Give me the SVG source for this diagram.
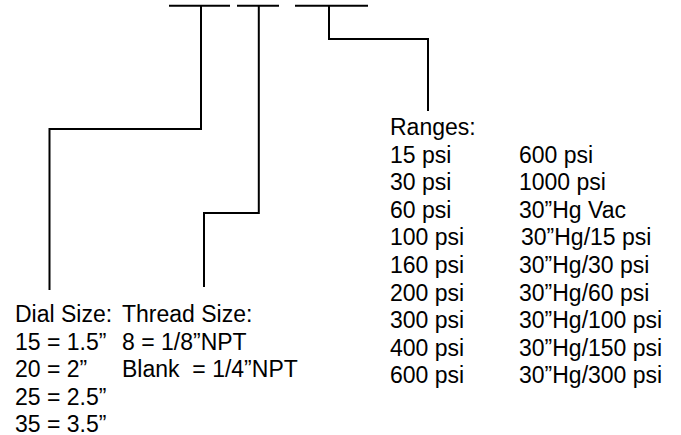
<svg xmlns="http://www.w3.org/2000/svg" width="681" height="435" viewBox="0 0 681 435">
  <style>
    .ln { fill: none; stroke: #000; stroke-width: 2; }
    .t { font-family: "Liberation Sans", Arial, sans-serif; font-size: 23px; fill: #000; }
  </style>
  <rect width="681" height="435" fill="#fff"/>
  <g id="slots">
    <line class="ln" x1="169" y1="5.7" x2="230" y2="5.7"/>
    <line class="ln" x1="237" y1="5.7" x2="279" y2="5.7"/>
    <line class="ln" x1="295" y1="5.7" x2="368" y2="5.7"/>
  </g>
  <g id="connectors">
    <path class="ln" d="M201,5.7 V129 H49.5 V290"/>
    <path class="ln" d="M258.8,5.7 V213 H204 V287"/>
    <path class="ln" d="M329,5.7 V39 H428 V111"/>
  </g>
  <g id="dial-size">
    <text class="t" x="15" y="322">Dial Size:</text>
    <text class="t" x="15" y="349.6">15 = 1.5”</text>
    <text class="t" x="15" y="377.2">20 = 2”</text>
    <text class="t" x="15" y="404.8">25 = 2.5”</text>
    <text class="t" x="15" y="432.4">35 = 3.5”</text>
  </g>
  <g id="thread-size">
    <text class="t" x="122" y="322">Thread Size:</text>
    <text class="t" x="122" y="349.6">8 = 1/8”NPT</text>
    <text class="t" x="122" y="377.2" xml:space="preserve">Blank  = 1/4”NPT</text>
  </g>
  <g id="ranges">
    <text class="t" x="390" y="135">Ranges:</text>
    <text class="t" x="390" y="162.6">15 psi</text>
    <text class="t" x="390" y="190.2">30 psi</text>
    <text class="t" x="390" y="217.8">60 psi</text>
    <text class="t" x="390" y="245.4">100 psi</text>
    <text class="t" x="390" y="273">160 psi</text>
    <text class="t" x="390" y="300.6">200 psi</text>
    <text class="t" x="390" y="328.2">300 psi</text>
    <text class="t" x="390" y="355.8">400 psi</text>
    <text class="t" x="390" y="383.4">600 psi</text>
    <text class="t" x="519" y="162.6">600 psi</text>
    <text class="t" x="519" y="190.2">1000 psi</text>
    <text class="t" x="519" y="217.8">30”Hg Vac</text>
    <text class="t" x="521" y="245.4">30”Hg/15 psi</text>
    <text class="t" x="519" y="273">30”Hg/30 psi</text>
    <text class="t" x="519" y="300.6">30”Hg/60 psi</text>
    <text class="t" x="519" y="328.2">30”Hg/100 psi</text>
    <text class="t" x="519" y="355.8">30”Hg/150 psi</text>
    <text class="t" x="519" y="383.4">30”Hg/300 psi</text>
  </g>
</svg>
